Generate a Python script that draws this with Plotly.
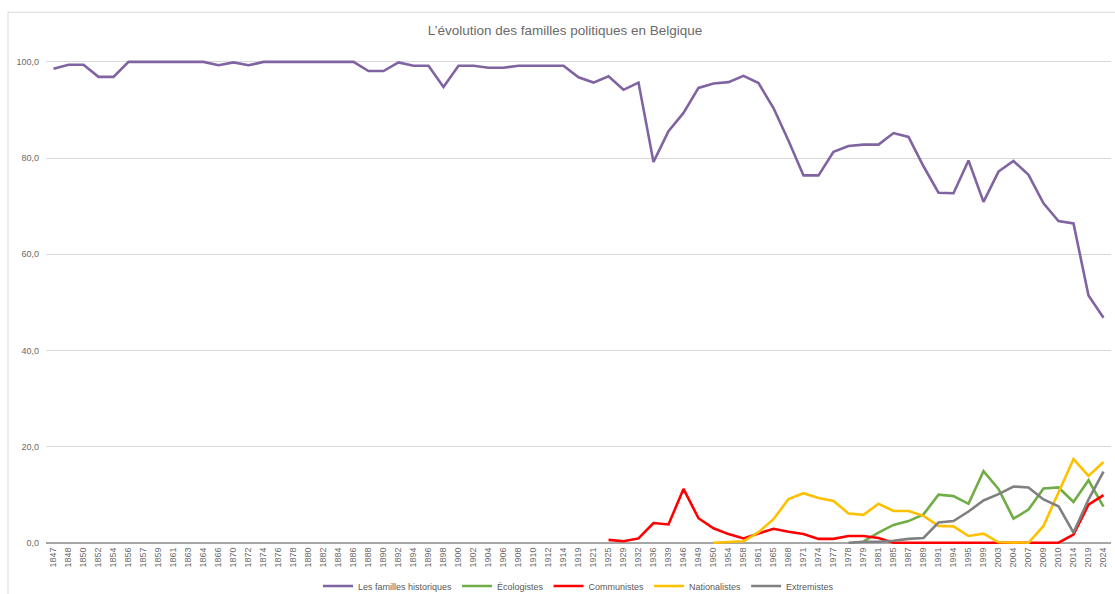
import plotly.graph_objects as go

years = ["1847", "1848", "1850", "1852", "1854", "1856", "1857", "1859", "1861", "1863",
         "1864", "1866", "1870", "1872", "1874", "1876", "1878", "1880", "1882", "1884",
         "1886", "1888", "1890", "1892", "1894", "1896", "1898", "1900", "1902", "1904",
         "1906", "1908", "1910", "1912", "1914", "1919", "1921", "1925", "1929", "1932",
         "1936", "1939", "1946", "1949", "1950", "1954", "1958", "1961", "1965", "1968",
         "1971", "1974", "1977", "1978", "1979", "1981", "1985", "1987", "1989", "1991",
         "1994", "1995", "1999", "2003", "2004", "2007", "2009", "2010", "2014", "2019",
         "2024"]

historiques = [98.6, 99.4, 99.4, 96.9, 96.9, 100, 100, 100, 100, 100,
               100, 99.3, 99.9, 99.3, 100, 100, 100, 100, 100, 100,
               100, 98.1, 98.1, 99.9, 99.2, 99.2, 94.8, 99.2, 99.2, 98.8,
               98.8, 99.2, 99.2, 99.2, 99.2, 96.8, 95.7, 97.0, 94.2, 95.7,
               79.2, 85.6, 89.4, 94.6, 95.5, 95.8, 97.1, 95.6, 90.4, 83.6,
               76.4, 76.4, 81.3, 82.5, 82.8, 82.8, 85.2, 84.4, 78.3, 72.8,
               72.7, 79.5, 70.9, 77.2, 79.4, 76.5, 70.6, 66.9, 66.4, 51.4,
               46.8]

_n = len(years)
ecologistes = [None] * 54 + [0.3, 2.1, 3.7, 4.5, 5.9, 10.0, 9.7, 8.1, 14.9, 11.2,
                             5.0, 6.9, 11.3, 11.5, 8.5, 13.0, 7.5]

communistes = [None] * 37 + [0.6, 0.3, 0.9, 4.1, 3.8, 11.2, 5.1, 3.0, 1.8, 0.9,
                             1.9, 2.9, 2.3, 1.8, 0.8, 0.8, 1.4, 1.4, 1.0, 0.0,
                             0.0, 0.0, 0.0, 0.0, 0.0, 0.0, 0.0, 0.0, 0.0, 0.0,
                             0.0, 1.7, 7.9, 9.9]

nationalistes = [None] * 44 + [0.0, 0.1, 0.3, 2.2, 4.9, 9.1, 10.3, 9.3, 8.7, 6.1,
                               5.8, 8.1, 6.6, 6.6, 5.6, 3.5, 3.4, 1.4, 1.9, 0.1,
                               0.0, 0.0, 3.5, 10.4, 17.4, 13.9, 16.8]

extremistes = [None] * 53 + [0.0, 0.2, 0.2, 0.4, 0.8, 1.0, 4.2, 4.5, 6.5, 8.8,
                             10.1, 11.7, 11.5, 9.0, 7.6, 2.1, 9.0, 14.8]

series = [
    ("Les familles historiques", historiques, "#8064A2"),
    ("Écologistes", ecologistes, "#70AD47"),
    ("Communistes", communistes, "#FF0000"),
    ("Nationalistes", nationalistes, "#FFC000"),
    ("Extremistes", extremistes, "#808080"),
]

FONT = "Liberation Sans, Arial, sans-serif"
GREY = "#595959"

fig = go.Figure()
for name, vals, col in series:
    fig.add_trace(go.Scatter(x=years, y=vals, name=name, mode="lines",
                             line=dict(color=col, width=2.6),
                             connectgaps=False))

W, H = 1115, 594
ml, mr, mt, mb = 46, 4, 60, 47
pw = W - ml - mr
ph = H - mt - mb

def px_x(p):
    return (p - ml) / pw

def px_y(p):
    return (H - mb - p) / ph

fig.update_layout(
    width=W, height=H,
    margin=dict(l=ml, r=mr, t=mt, b=mb),
    paper_bgcolor="white", plot_bgcolor="white",
    separators=",.",
    font=dict(family=FONT, color=GREY, size=9),
    title=dict(text="L’évolution des familles politiques en Belgique",
               x=565 / W, xanchor="center", y=1 - 30 / H, yanchor="middle",
               font=dict(family=FONT, size=13.5, color="#6a6a6a")),
    showlegend=True,
    legend=dict(orientation="h", x=0.5, xanchor="center",
                yref="container", y=1 - 586 / H, yanchor="middle",
                font=dict(family=FONT, size=9, color=GREY),
                itemwidth=30, bgcolor="rgba(0,0,0,0)"),
    xaxis=dict(type="category", range=[-0.5, _n - 0.5],
               tickmode="array", tickvals=years, ticktext=years,
               tickangle=-90, showgrid=False, showline=False, ticks="",
               tickfont=dict(family=FONT, size=9, color="#6a6a6a"), fixedrange=True),
    yaxis=dict(range=[-0.4, 100.4], tickmode="array",
               tickvals=[0, 20, 40, 60, 80, 100], tickformat=".1f",
               showgrid=True, gridcolor="#D9D9D9", gridwidth=1,
               zeroline=True, zerolinecolor="#A6A6A6", zerolinewidth=1.6,
               showline=False, ticks="", ticklabelstandoff=6,
               tickfont=dict(family=FONT, size=9, color="#6a6a6a"), fixedrange=True),
    shapes=[
        dict(type="line", xref="paper", yref="paper",
             x0=px_x(8), x1=px_x(W + 5), y0=px_y(12), y1=px_y(12),
             line=dict(color="#D9D9D9", width=1)),
        dict(type="line", xref="paper", yref="paper",
             x0=px_x(8), x1=px_x(8), y0=px_y(12), y1=px_y(H + 5),
             line=dict(color="#D9D9D9", width=1)),
    ],
)

fig.write_html("out.html", include_plotlyjs=True,
               config={"displayModeBar": False},
               post_script="document.body.style.margin='0';document.body.style.overflow='hidden';")
